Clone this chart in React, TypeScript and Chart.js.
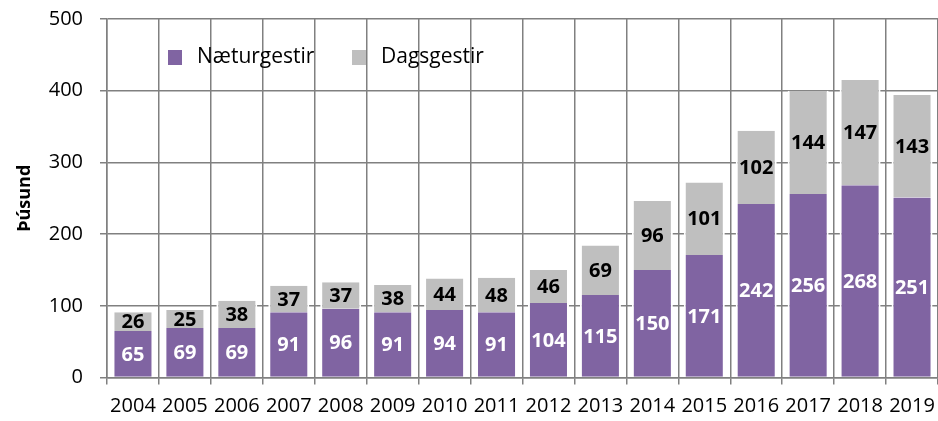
import React, { useEffect, useRef } from "react";
import { Chart, registerables } from "chart.js";

Chart.register(...registerables);

const years = ["2004","2005","2006","2007","2008","2009","2010","2011","2012","2013","2014","2015","2016","2017","2018","2019"];
const naeturgestir = [65, 69, 69, 91, 96, 91, 94, 91, 104, 115, 150, 171, 242, 256, 268, 251];
const dagsgestir = [26, 25, 38, 37, 37, 38, 44, 48, 46, 69, 96, 101, 102, 144, 147, 143];
const seriesNames = ["Næturgestir", "Dagsgestir"];
const yTicks = [0, 100, 200, 300, 400, 500];
const yTitle = "Þúsund";

const PURPLE = "#8064A2";
const GRAY = "#BFBFBF";
const GRID = "#808080";
const FONT = "'Open Sans', 'Liberation Sans', sans-serif";

const labelPlugin = {
  id: "barLabels",
  afterDatasetsDraw(chart: any) {
    const ctx = chart.ctx;
    ctx.save();
    ctx.font = `bold 20px ${FONT}`;
    ctx.textAlign = "center";
    ctx.textBaseline = "middle";
    chart.data.datasets.forEach((ds: any, di: number) => {
      const meta = chart.getDatasetMeta(di);
      ctx.fillStyle = di === 0 ? "#ffffff" : "#000000";
      meta.data.forEach((el: any, i: number) => {
        const p = el.getProps(["x", "y", "base"], true);
        ctx.fillText(String(ds.data[i]), p.x, (p.y + p.base) / 2 + 1);
      });
    });
    ctx.restore();
  },
};

const legendPlugin = {
  id: "innerLegend",
  afterDraw(chart: any) {
    const ctx = chart.ctx;
    const a = chart.chartArea;
    ctx.save();
    ctx.font = `21px ${FONT}`;
    ctx.textBaseline = "middle";
    ctx.textAlign = "left";
    const items = [
      { name: seriesNames[0], color: PURPLE, x: a.left + 61 },
      { name: seriesNames[1], color: GRAY, x: a.left + 245 },
    ];
    const y = a.top + 31;
    items.forEach((it) => {
      ctx.fillStyle = it.color;
      ctx.fillRect(it.x, y, 14, 15);
      ctx.fillStyle = "#000";
      ctx.fillText(it.name, it.x + 29, y + 7);
    });
    ctx.restore();
  },
};

export default function App() {
  const ref = useRef<HTMLCanvasElement>(null);
  useEffect(() => {
    if (!ref.current) return;
    const chart = new Chart(ref.current, {
      type: "bar",
      data: {
        labels: years,
        datasets: [
          {
            label: seriesNames[0],
            data: naeturgestir,
            backgroundColor: PURPLE,
            borderColor: "#ffffff",
            borderWidth: { left: 2, right: 2, top: 0, bottom: 0 },
            borderSkipped: false,
            barPercentage: 0.79,
            categoryPercentage: 1,
          },
          {
            label: seriesNames[1],
            data: dagsgestir,
            backgroundColor: GRAY,
            borderColor: "#ffffff",
            borderWidth: { left: 2, right: 2, top: 0, bottom: 0 },
            borderSkipped: false,
            barPercentage: 0.79,
            categoryPercentage: 1,
          },
        ],
      },
      options: {
        animation: false,
        responsive: true,
        maintainAspectRatio: false,
        layout: { padding: { top: 19, right: 0, left: 0, bottom: 0 } },
        plugins: {
          legend: { display: false },
          tooltip: { enabled: false },
        },
        scales: {
          x: {
            stacked: true,
            offset: true,
            grid: { display: true, offset: true, color: GRID, lineWidth: 1.5, tickLength: 7, drawOnChartArea: true },
            border: { display: true, color: GRID, width: 1.5 },
            ticks: { color: "#000", font: { family: FONT, size: 20 }, padding: 10, maxRotation: 0, autoSkip: false },
            afterFit: (s: any) => { s.height = 43.5; s.paddingLeft = 0; s.paddingRight = 0; },
          },
          y: {
            stacked: true,
            min: 0,
            max: 500,
            afterBuildTicks: (s: any) => { s.ticks = yTicks.map((v) => ({ value: v })); },
            grid: { color: GRID, lineWidth: 1.5, tickLength: 7 },
            border: { display: true, color: GRID, width: 1.5 },
            ticks: { color: "#000", font: { family: FONT, size: 20 }, padding: 17 },
            title: {
              display: true,
              text: yTitle,
              color: "#000",
              font: { family: FONT, size: 18, weight: "bold" },
              padding: { top: 14, bottom: 0 },
            },
            afterFit: (s: any) => { s.width = 107; s.paddingTop = 0; s.paddingBottom = 0; },
          },
        },
      },
      plugins: [labelPlugin, legendPlugin],
    });
    return () => chart.destroy();
  }, []);
  return (
    <div style={{ position: "fixed", left: 0, top: 0, width: 938, height: 421, background: "#fff" }}>
      <canvas ref={ref} />
    </div>
  );
}
